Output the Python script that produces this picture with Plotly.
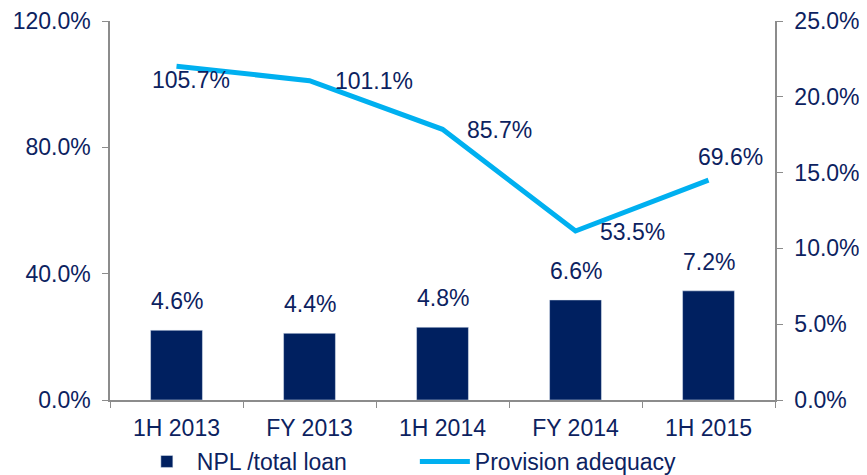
import plotly.graph_objects as go

categories = ["1H 2013", "FY 2013", "1H 2014", "FY 2014", "1H 2015"]
npl_ratio = [4.6, 4.4, 4.8, 6.6, 7.2]
provision_adequacy = [105.7, 101.1, 85.7, 53.5, 69.6]
left_ticks = [0, 40, 80, 120]
right_ticks = [0, 5, 10, 15, 20, 25]

TEXT = "#0c2260"
FONT = "Liberation Sans, Arial, sans-serif"
FS = 23

fig = go.Figure()
fig.add_trace(go.Bar(
    x=categories, y=npl_ratio, name="NPL /total loan", yaxis="y2",
    marker=dict(color="#002060"), width=0.39,
))
fig.add_trace(go.Scatter(
    x=categories, y=provision_adequacy, name="Provision adequacy", yaxis="y",
    mode="lines", line=dict(color="#00B0F0", width=5),
))

for c, v in zip(categories, npl_ratio):
    fig.add_annotation(x=c, y=v, xref="x", yref="y2", text=f"{v:.1f}%",
                       showarrow=False, yanchor="bottom", yshift=14,
                       font=dict(size=FS, color=TEXT, family=FONT))

label_shifts = [(14, -14), (64, 0), (57, -1), (57, -1), (22, 23)]
for c, v, (dx, dy) in zip(categories, provision_adequacy, label_shifts):
    fig.add_annotation(x=c, y=v, xref="x", yref="y", text=f"{v:.1f}%",
                       showarrow=False, xshift=dx, yshift=dy,
                       font=dict(size=FS, color=TEXT, family=FONT))

axis_common = dict(showgrid=False, zeroline=False, showline=True, linecolor="#8c8c8c",
                   linewidth=1.5, ticks="outside", ticklen=6, tickcolor="#8c8c8c",
                   automargin=False, ticklabelstandoff=7,
                   tickfont=dict(size=FS, color=TEXT, family=FONT))

# page body has an 8px default margin, so the figure is offset by 8px
fig.update_layout(
    width=859, height=467,
    margin=dict(l=102, r=92, t=13, b=75),
    plot_bgcolor="white", paper_bgcolor="white",
    font=dict(family=FONT, color=TEXT, size=FS),
    xaxis=dict(**axis_common, tickson="boundaries", type="category"),
    yaxis=dict(**axis_common, range=[0, 120], tickvals=left_ticks,
               ticktext=[f"{v:.1f}%" for v in left_ticks]),
    yaxis2=dict(**axis_common, range=[0, 25], tickvals=right_ticks,
                ticktext=[f"{v:.1f}%" for v in right_ticks],
                overlaying="y", side="right"),
    showlegend=True,
    legend=dict(orientation="h", xref="container", yref="container",
                x=0.15, xanchor="left", y=1 - 432 / 467, yanchor="top",
                font=dict(size=FS, color=TEXT, family=FONT), traceorder="normal",
                itemwidth=50, entrywidth=213),
)

fig.write_html("out.html")
